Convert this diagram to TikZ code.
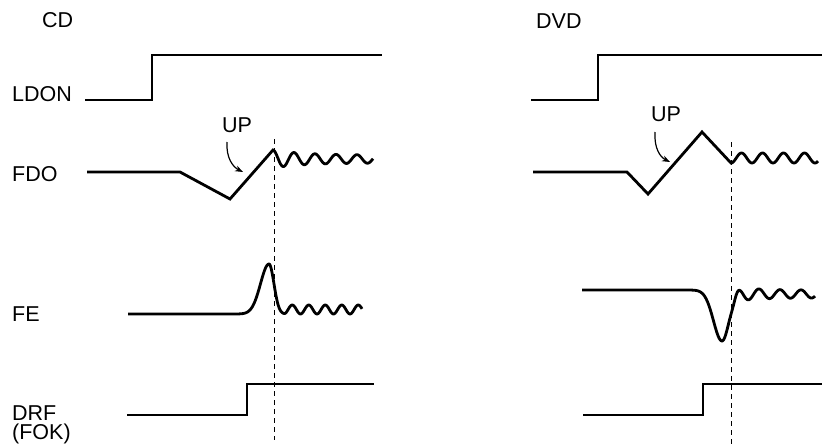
\documentclass[tikz,border=0pt]{standalone}
\usepackage{fontspec}
\setmainfont{Liberation Sans}
\usetikzlibrary{arrows.meta}
\begin{document}
\begin{tikzpicture}[x=1pt,y=-1pt,
  sig/.style={line width=2.8pt, line join=miter},
  guide/.style={line width=0.9pt, dash pattern=on 5pt off 4pt},
  lbl/.style={inner sep=0pt, anchor=base west, font=\fontsize{21.5}{25}\selectfont},
  uparrow/.style={line width=1.2pt, -{Stealth[length=8pt,width=6pt]}}]
\useasboundingbox (0,0) rectangle (822,445);

% titles and labels
\node[lbl] (cd) at (42,27) {CD};
\node[lbl] (dvd) at (536,28) {DVD};
\node[lbl] (ldon) at (12,101) {LDON};
\node[lbl] (fdo) at (12,181) {FDO};
\node[lbl] (fe) at (12,321) {FE};
\node[lbl] (drf) at (12,420) {DRF};
\node[lbl] (fok) at (12,439) {(FOK)};
\node[lbl] (upcd) at (222,132) {UP};
\node[lbl] (updvd) at (651,121) {UP};

% dashed guides
\coordinate (gcdtop) at (274,139);
\coordinate (gcdbot) at (274,440);
\coordinate (gdvdtop) at (731,142);
\coordinate (gdvdbot) at (731,445);
\draw[guide] (gcdtop) -- (gcdbot);
\draw[guide] (gdvdtop) -- (gdvdbot);

% LDON
\draw[sig] (85,100) -- (152,100) -- (152,55) -- (382,55);
\draw[sig] (531,100) -- (598,100) -- (598,55) -- (822,55);

% FDO
\draw[sig] (87,172) -- (180,172) -- (230,199) -- (273,150) --
  plot[domain=273:373, samples=120, smooth] (\x, {159 - (4+5*exp(-(\x-273)/30))*cos(17.142857*(\x-273))});
\draw[sig] (533,172) -- (627,172) -- (648,194) -- (702,132) -- (731,163) --
  plot[domain=731:818, samples=120, smooth] (\x, {158+5*cos(17.142857*(\x-731))});

% UP arrows
\coordinate (upcdstart) at (227,142);
\coordinate (upcdend) at (243,172);
\draw[uparrow] (upcdstart) .. controls (226,158) and (233,167) .. (upcdend);
\coordinate (updvdstart) at (655,132);
\coordinate (updvdend) at (670,162);
\draw[uparrow] (updvdstart) .. controls (654,148) and (660,157) .. (updvdend);

% FE
\draw[sig] (128,314) -- (225,314) --
  plot[domain=225:362, samples=250, smooth] (\x, {314 - 50*exp(-((\x-269)/(\x<269?12:7))*((\x-269)/(\x<269?12:7))) - (\x>284)*4.5*(1-cos(21.818182*(\x-284)))});
\draw[sig] (582,290) -- (690,290) --
  plot[domain=690:815, samples=250, smooth] (\x, {290 + 51*exp(-((\x-722)/(\x<722?12:10))*((\x-722)/(\x<722?12:10))) + (4-(4+3*exp(-max(0,\x-738)/20))*cos(17.142857*(\x-738)))/(1+exp(min(9,-(\x-733)/1.5)))});

% DRF
\draw[sig] (127,415) -- (247,415) -- (247,384) -- (374,384);
\draw[sig] (583,415) -- (703,415) -- (703,384) -- (822,384);
\end{tikzpicture}
\end{document}
